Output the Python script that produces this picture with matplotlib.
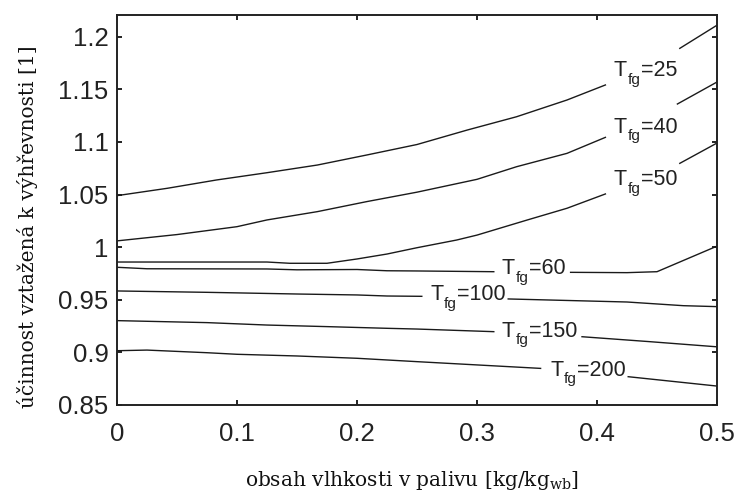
import numpy as np
import matplotlib
matplotlib.use("Agg")
import matplotlib.pyplot as plt

plt.rcParams['mathtext.fontset'] = 'custom'
plt.rcParams['mathtext.rm'] = 'DejaVu Serif'

# ---- data ----
temps = [25, 40, 50, 60, 100, 150, 200]

x25 = [0, 0.042, 0.083, 0.125, 0.167, 0.208, 0.25, 0.292, 0.333, 0.375, 0.407, np.nan, 0.469, 0.5]
y25 = [1.049, 1.056, 1.0639, 1.0708, 1.0781, 1.0876, 1.0976, 1.1114, 1.124, 1.1399, 1.1542, np.nan, 1.189, 1.211]

x40 = [0, 0.05, 0.1, 0.125, 0.167, 0.208, 0.25, 0.3, 0.333, 0.375, 0.407, np.nan, 0.467, 0.5]
y40 = [1.006, 1.012, 1.0195, 1.0259, 1.0338, 1.0433, 1.0523, 1.0645, 1.0765, 1.0892, 1.1044, np.nan, 1.1361, 1.157]

x50 = [0, 0.125, 0.144, 0.175, 0.2, 0.225, 0.25, 0.283, 0.3, 0.342, 0.375, 0.407, np.nan, 0.469, 0.5]
y50 = [0.9859, 0.9859, 0.9847, 0.9847, 0.9888, 0.9935, 0.9995, 1.0068, 1.0115, 1.0259, 1.037, 1.0506, np.nan, 1.0797, 1.099]

x60 = [0, 0.025, 0.125, 0.15, 0.2, 0.225, 0.25, 0.314, np.nan, 0.378, 0.425, 0.45, 0.5]
y60 = [0.9809, 0.9795, 0.9793, 0.9785, 0.9788, 0.9776, 0.9774, 0.9767, np.nan, 0.9761, 0.9758, 0.9767, 1.001]

x100 = [0, 0.075, 0.15, 0.2, 0.225, 0.254, np.nan, 0.326, 0.425, 0.472, 0.5]
y100 = [0.9584, 0.9571, 0.9555, 0.9546, 0.9536, 0.9533, np.nan, 0.9508, 0.9479, 0.9444, 0.9435]

x150 = [0, 0.075, 0.125, 0.175, 0.225, 0.25, 0.314, np.nan, 0.3875, 0.444, 0.5]
y150 = [0.9302, 0.9283, 0.926, 0.9245, 0.9229, 0.9222, 0.9197, np.nan, 0.9149, 0.9102, 0.9053]

x200 = [0, 0.025, 0.075, 0.1, 0.15, 0.2, 0.25, 0.353, np.nan, 0.426, 0.5]
y200 = [0.9016, 0.9022, 0.8997, 0.8982, 0.8966, 0.8944, 0.8912, 0.8848, np.nan, 0.8769, 0.868]

# inline labels: left edge and baseline of each "T_fg=..." label
label_x = [0.4139, 0.4139, 0.4139, 0.3208, 0.2611, 0.3208, 0.3611]
label_y = [1.1627, 1.1089, 1.0591, 0.9742, 0.9498, 0.9149, 0.8776]

xticks = [0, 0.1, 0.2, 0.3, 0.4, 0.5]
xticklabels = ['0', '0.1', '0.2', '0.3', '0.4', '0.5']
yticks = [0.85, 0.9, 0.95, 1.0, 1.05, 1.1, 1.15, 1.2]
yticklabels = ['0.85', '0.9', '0.95', '1', '1.05', '1.1', '1.15', '1.2']

xlabel = 'obsah vlhkosti v palivu [kg/kg$_{\\mathrm{wb}}$]'
ylabel = 'účinnost vztažená k výhřevnosti [1]'

curves_x = [x25, x40, x50, x60, x100, x150, x200]
curves_y = [y25, y40, y50, y60, y100, y150, y200]

# ---- figure ----
W, H = 737, 492
fig = plt.figure(figsize=(W / 100, H / 100), dpi=100)
ax = fig.add_axes([117 / W, 1 - 405 / H, 600 / W, 390 / H])

line_color = '#1a1a1a'
txt_color = '#222222'
for xs, ys in zip(curves_x, curves_y):
    ax.plot(xs, ys, color=line_color, lw=1.0, solid_joinstyle='round')

ax.set_xlim(0, 0.5)
ax.set_ylim(0.85, 1.2207)

renderer = fig.canvas.get_renderer()
main_fs, sub_fs = 15.5, 11.0
sub_drop_px = 7.5
for t, lx, ly in zip(temps, label_x, label_y):
    t1 = ax.annotate('T', (lx, ly), xytext=(0, 0), textcoords='offset pixels',
                     ha='left', va='baseline', fontsize=main_fs,
                     family='Liberation Sans', color=txt_color)
    w1 = t1.get_window_extent(renderer).width
    t2 = ax.annotate('fg', (lx, ly), xytext=(w1 + 0.5, -sub_drop_px), textcoords='offset pixels',
                     ha='left', va='baseline', fontsize=sub_fs,
                     family='Liberation Sans', color=txt_color)
    w2 = t2.get_window_extent(renderer).width
    ax.annotate('=%d' % t, (lx, ly), xytext=(w1 + w2 + 1.0, 0), textcoords='offset pixels',
                ha='left', va='baseline', fontsize=main_fs,
                family='Liberation Sans', color=txt_color)

ax.set_xticks(xticks)
ax.set_xticklabels(xticklabels)
ax.set_yticks(yticks)
ax.set_yticklabels(yticklabels)

for lab in ax.get_xticklabels() + ax.get_yticklabels():
    lab.set_family('Liberation Sans')
    lab.set_fontsize(18.5)
    lab.set_color(txt_color)

ax.tick_params(axis='both', direction='in', top=True, right=True, length=3.5, width=1.4, color=txt_color)
ax.tick_params(axis='x', pad=12)
ax.tick_params(axis='y', pad=6)
for s in ax.spines.values():
    s.set_linewidth(1.4)
    s.set_color(txt_color)

fig.text(411.7 / W, 1 - 481 / H, xlabel, ha='center', va='center',
         fontsize=14.5, family='DejaVu Serif', color='#111111')
fig.text(28 / W, 1 - 227 / H, ylabel, ha='center', va='center', rotation=90,
         fontsize=14.5, family='DejaVu Serif', color='#111111')

fig.savefig('out.png', dpi=100)
